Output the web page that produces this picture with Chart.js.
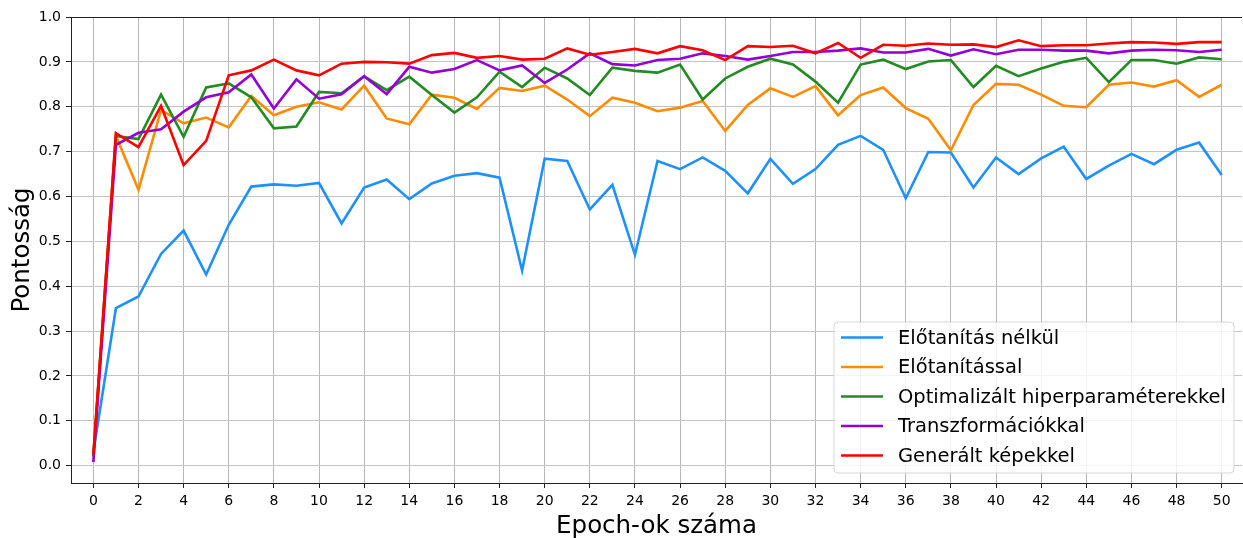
<!DOCTYPE html>
<html>
<head>
<meta charset="utf-8">
<script src="https://cdn.jsdelivr.net/npm/chart.js@4.4.1/dist/chart.umd.min.js"></script>
<style>
  html, body { margin: 0; padding: 0; background: #fff; }
  #wrap { width: 1243px; height: 538px; }
</style>
</head>
<body>
<div id="wrap"><canvas id="accChart" width="1243" height="538"></canvas></div>
<script>
// --- data ---
const epochs = [0,1,2,3,4,5,6,7,8,9,10,11,12,13,14,15,16,17,18,19,20,21,22,23,24,25,
  26,27,28,29,30,31,32,33,34,35,36,37,38,39,40,41,42,43,44,45,46,47,48,49,50];
const xTicks = [0,2,4,6,8,10,12,14,16,18,20,22,24,26,28,30,32,34,36,38,40,42,44,46,48,50];
const yTicks = [0.0,0.1,0.2,0.3,0.4,0.5,0.6,0.7,0.8,0.9,1.0];

const seriesNames = [
  'Előtanítás nélkül',
  'Előtanítással',
  'Optimalizált hiperparaméterekkel',
  'Transzformációkkal',
  'Generált képekkel'
];
const seriesColors = ['#1e90ff', '#ff8c00', '#228b22', '#9400d3', '#ff0000'];

const noPretrain = [0.03,0.351,0.377,0.472,0.524,0.426,0.537,0.622,0.627,0.624,0.630,0.540,0.620,
  0.638,0.594,0.629,0.646,0.652,0.642,0.435,0.684,0.679,0.571,0.626,0.470,0.679,0.661,0.687,0.657,
  0.607,0.684,0.628,0.661,0.715,0.735,0.704,0.596,0.699,0.698,0.620,0.687,0.650,0.685,0.711,0.639,
  0.669,0.695,0.672,0.704,0.720,0.648];
const pretrained = [0.02,0.735,0.615,0.793,0.763,0.776,0.754,0.824,0.781,0.800,0.810,0.794,0.847,
  0.774,0.761,0.827,0.820,0.795,0.842,0.835,0.847,0.816,0.779,0.820,0.809,0.790,0.798,0.813,0.746,
  0.804,0.841,0.822,0.846,0.781,0.826,0.843,0.797,0.773,0.703,0.804,0.851,0.849,0.827,0.802,0.799,
  0.849,0.854,0.845,0.859,0.822,0.849];
const tunedHyper = [0.02,0.735,0.728,0.827,0.733,0.843,0.852,0.821,0.752,0.756,0.833,0.830,0.868,
  0.837,0.867,0.826,0.787,0.821,0.878,0.844,0.887,0.863,0.826,0.887,0.880,0.876,0.894,0.816,0.863,
  0.889,0.907,0.894,0.856,0.809,0.894,0.905,0.884,0.901,0.904,0.844,0.891,0.868,0.885,0.900,0.909,
  0.855,0.904,0.904,0.896,0.910,0.906];
const transformed = [0.008,0.715,0.742,0.750,0.789,0.821,0.832,0.872,0.796,0.861,0.818,0.828,0.868,
  0.828,0.889,0.876,0.884,0.904,0.881,0.892,0.853,0.883,0.919,0.895,0.892,0.904,0.907,0.919,0.913,
  0.905,0.913,0.922,0.922,0.925,0.930,0.921,0.921,0.929,0.914,0.928,0.917,0.927,0.927,0.925,0.925,
  0.919,0.925,0.927,0.926,0.922,0.927];
const generated = [0.024,0.741,0.710,0.802,0.670,0.724,0.870,0.881,0.905,0.881,0.870,0.896,0.900,
  0.899,0.896,0.915,0.920,0.909,0.913,0.905,0.907,0.930,0.916,0.922,0.929,0.919,0.935,0.926,0.904,
  0.935,0.933,0.936,0.919,0.942,0.909,0.938,0.936,0.941,0.938,0.939,0.933,0.948,0.935,0.937,0.937,
  0.941,0.944,0.943,0.940,0.944,0.944];

const allSeries = [noPretrain, pretrained, tunedHyper, transformed, generated];
const FONT = '"DejaVu Sans", "Liberation Sans", sans-serif';

// legend drawn inside the plot, lower right (like matplotlib's)
const legendBox = {
  id: 'legendBox',
  afterDatasetsDraw(chart) {
    const ctx = chart.ctx;
    const area = chart.chartArea;
    const sets = chart.data.datasets;
    ctx.save();
    ctx.font = '19.5px ' + FONT;
    let textW = 0;
    sets.forEach(d => { textW = Math.max(textW, ctx.measureText(d.label).width); });
    const rowH = 29.5;
    const w = 64 + textW + 8;
    const h = 151;
    const x = area.right - 8 - w;
    const y = area.bottom - 10 - h;

    ctx.beginPath();
    ctx.roundRect(x, y, w, h, 4);
    ctx.fillStyle = 'rgba(255,255,255,0.8)';
    ctx.fill();
    ctx.strokeStyle = 'rgba(204,204,204,0.8)';
    ctx.lineWidth = 1;
    ctx.stroke();

    ctx.textBaseline = 'middle';
    ctx.textAlign = 'left';
    sets.forEach((d, i) => {
      const cy = y + 15.5 + i * rowH;
      ctx.beginPath();
      ctx.moveTo(x + 7, cy);
      ctx.lineTo(x + 49, cy);
      ctx.strokeStyle = d.borderColor;
      ctx.lineWidth = 2.6;
      ctx.stroke();
      ctx.fillStyle = '#000';
      ctx.fillText(d.label, x + 64, cy + 1);
    });
    ctx.restore();
  },
  afterDraw(chart) {
    // top spine
    const ctx = chart.ctx, a = chart.chartArea;
    ctx.save();
    ctx.strokeStyle = '#222';
    ctx.lineWidth = 1;
    ctx.beginPath();
    ctx.moveTo(a.left, Math.round(a.top) + 0.5);
    ctx.lineTo(a.right, Math.round(a.top) + 0.5);
    ctx.stroke();
    ctx.restore();
  }
};

const datasets = allSeries.map((vals, i) => ({
  label: seriesNames[i],
  data: vals.map((v, j) => ({ x: epochs[j], y: v })),
  borderColor: seriesColors[i],
  backgroundColor: seriesColors[i],
  borderWidth: 2.6,
  pointRadius: 0,
  tension: 0,
  fill: false,
  order: allSeries.length - i
}));

new Chart(document.getElementById('accChart'), {
  type: 'line',
  data: { datasets: datasets },
  plugins: [legendBox],
  options: {
    responsive: false,
    animation: false,
    devicePixelRatio: 1,
    layout: { padding: { top: 17, right: 1, left: 0, bottom: 0 } },
    plugins: {
      legend: { display: false },
      tooltip: { enabled: false }
    },
    scales: {
      x: {
        type: 'linear',
        min: -0.99,
        max: 50.9,
        afterBuildTicks: (scale) => { scale.ticks = xTicks.map(v => ({ value: v })); },
        afterFit: (scale) => { scale.height = 55; },
        ticks: {
          color: '#000',
          font: { family: FONT, size: 14 },
          padding: 5,
          maxRotation: 0,
          autoSkip: false,
          callback: (v) => String(v)
        },
        grid: { color: '#b8b8b8', lineWidth: 1, tickLength: 5, tickColor: '#222' },
        border: { display: true, color: '#222', width: 1 },
        title: {
          display: true,
          text: 'Epoch-ok száma',
          color: '#000',
          font: { family: FONT, size: 24.5 },
          padding: { top: 0, bottom: -3 }
        }
      },
      y: {
        min: -0.0386,
        max: 1.0,
        afterBuildTicks: (scale) => { scale.ticks = yTicks.map(v => ({ value: v })); },
        afterFit: (scale) => { scale.width = 71; },
        ticks: {
          color: '#000',
          font: { family: FONT, size: 14 },
          padding: 5,
          callback: (v) => Number(v).toFixed(1)
        },
        grid: { color: '#c4c4c4', lineWidth: 1, tickLength: 5, tickColor: '#222' },
        border: { display: true, color: '#222', width: 1 },
        title: {
          display: true,
          text: 'Pontosság',
          color: '#000',
          font: { family: FONT, size: 24.5 },
          padding: { top: 8, bottom: 0 }
        }
      }
    }
  }
});
</script>
</body>
</html>
